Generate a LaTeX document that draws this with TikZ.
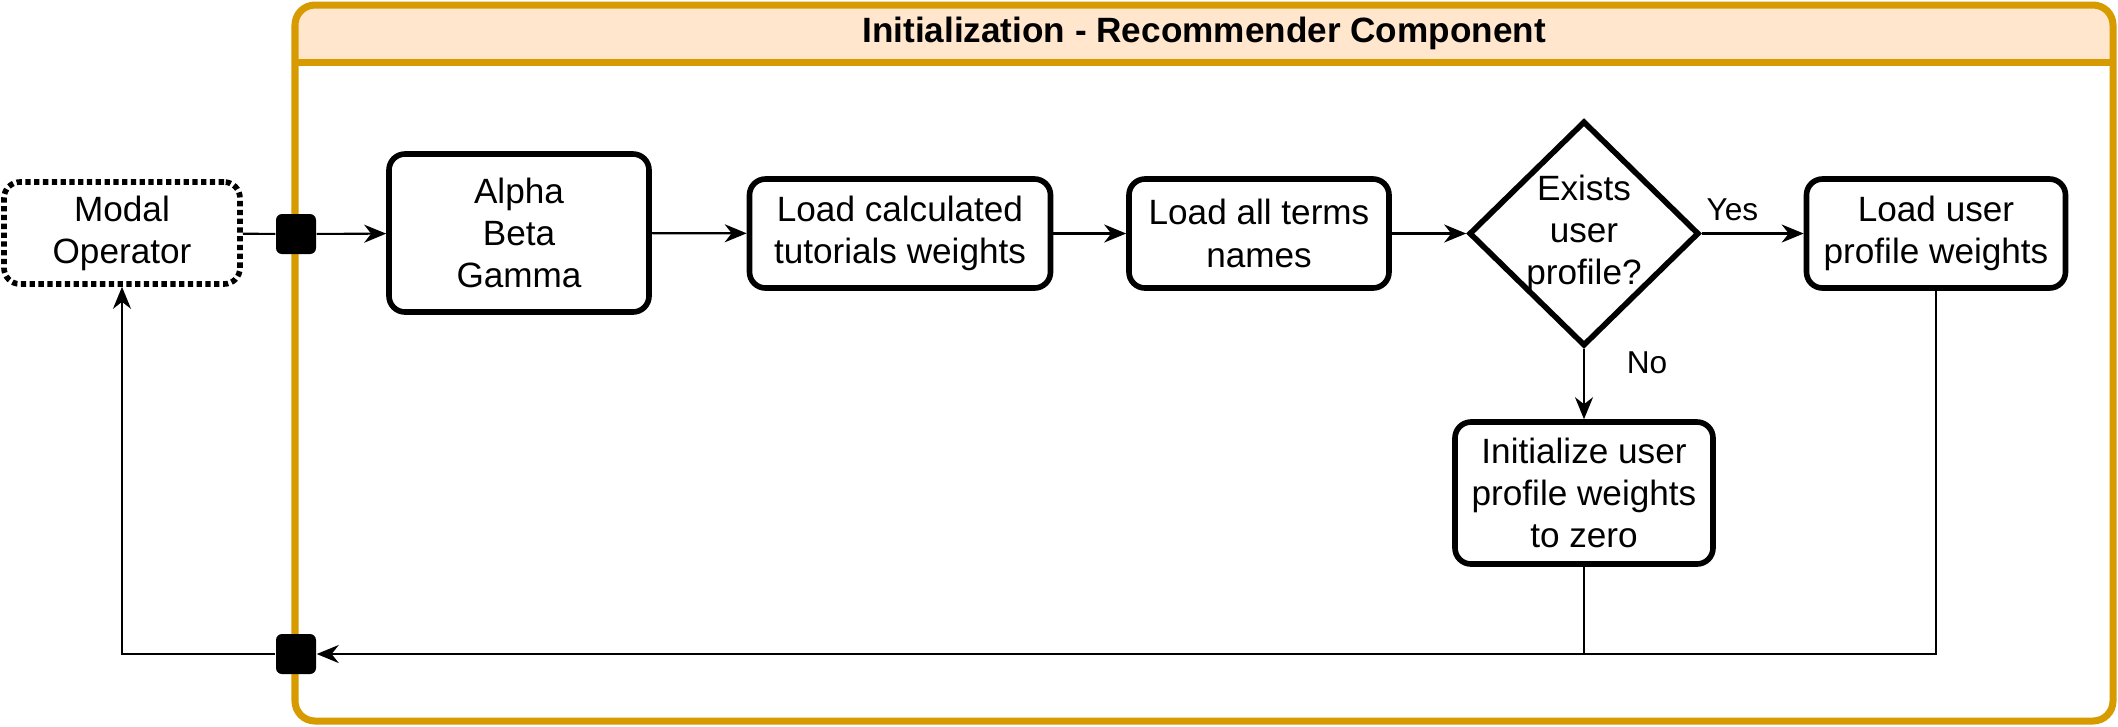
\documentclass[tikz,border=0pt]{standalone}
\usepackage{fontspec}
\setmainfont{Liberation Sans}
\usetikzlibrary{shapes.geometric,arrows.meta}
\definecolor{laneorange}{HTML}{D79B00}
\definecolor{lanepeach}{HTML}{FFE6CC}
\tikzset{
  stepbox/.style={draw, line width=1.6pt, rounded corners=0.16cm, align=center, inner sep=0pt, font=\fontsize{10}{12}\selectfont},
  port/.style={fill=black, rounded corners=0.06cm, minimum size=0.4cm, inner sep=0pt},
  link/.style={line width=0.6pt},
  flow/.style={link, -{Stealth[length=0.22cm,width=0.18cm,inset=0.07cm]}},
  branch/.style={font=\fontsize{9}{11}\selectfont}
}
\begin{document}
\begin{tikzpicture}
    \useasboundingbox (0,0) rectangle (21.18,-7.26);
    \fill[white] (0,0) rectangle (21.18,-7.26);
    \fill[lanepeach, rounded corners=0.2cm] (2.95,-0.05) rectangle (21.13,-0.62);
    \fill[lanepeach] (2.95,-0.35) rectangle (21.13,-0.62);
    \draw[laneorange, line width=2pt, rounded corners=0.2cm] (2.95,-0.05) rectangle (21.13,-7.21);
    \draw[laneorange, line width=2pt] (2.95,-0.62) -- (21.13,-0.62);
    \node[font=\bfseries\fontsize{10}{12}\selectfont] (lanetitle) at (12.04,-0.33) {Initialization - Recommender Component};
    \node[stepbox, dash pattern=on 1.5pt off 1pt, minimum width=2.36cm, minimum height=1.02cm] (modal) at (1.22,-2.33) {Modal\\Operator};
    \node[port] (portin) at (2.96,-2.34) {};
    \node[port] (portout) at (2.96,-6.54) {};
    \node[stepbox, minimum width=2.6cm, minimum height=1.58cm] (greek) at (5.19,-2.33) {Alpha\\Beta\\Gamma};
    \node[stepbox, minimum width=3.01cm, minimum height=1.09cm] (tutorials) at (9.00,-2.335) {Load calculated\\tutorials weights};
    \node[stepbox, minimum width=2.6cm, minimum height=1.09cm] (terms) at (12.59,-2.335) {Load all terms\\names};
    \node[draw, diamond, line width=1.6pt, minimum width=2.3cm, minimum height=2.25cm, inner sep=0pt] (exists) at (15.84,-2.335) {};
    \node[align=center, font=\fontsize{10}{12}\selectfont] (existstext) at (exists) {Exists\\user\\profile?};
    \node[stepbox, minimum width=2.59cm, minimum height=1.09cm] (userload) at (19.36,-2.335) {Load user\\profile weights};
    \node[stepbox, minimum width=2.58cm, minimum height=1.42cm] (userinit) at (15.84,-4.93) {Initialize user\\profile weights\\to zero};
    \draw[link] (modal) -- (portin);
    \draw[flow] (portin) -- (greek);
    \draw[flow] (greek) -- (tutorials);
    \draw[flow] (tutorials) -- (terms);
    \draw[flow] (terms) -- (exists);
    \draw[flow] (exists) -- node[branch, pos=0.3, above=0pt] {Yes} (userload);
    \draw[flow] (exists) -- node[branch, pos=0.2, right=0.3cm] {No} (userinit);
    \draw[flow] (userinit) |- (portout);
    \draw[link] (userload) |- (userinit |- portout);
    \draw[flow] (portout) -| (modal);
\end{tikzpicture}
\end{document}
